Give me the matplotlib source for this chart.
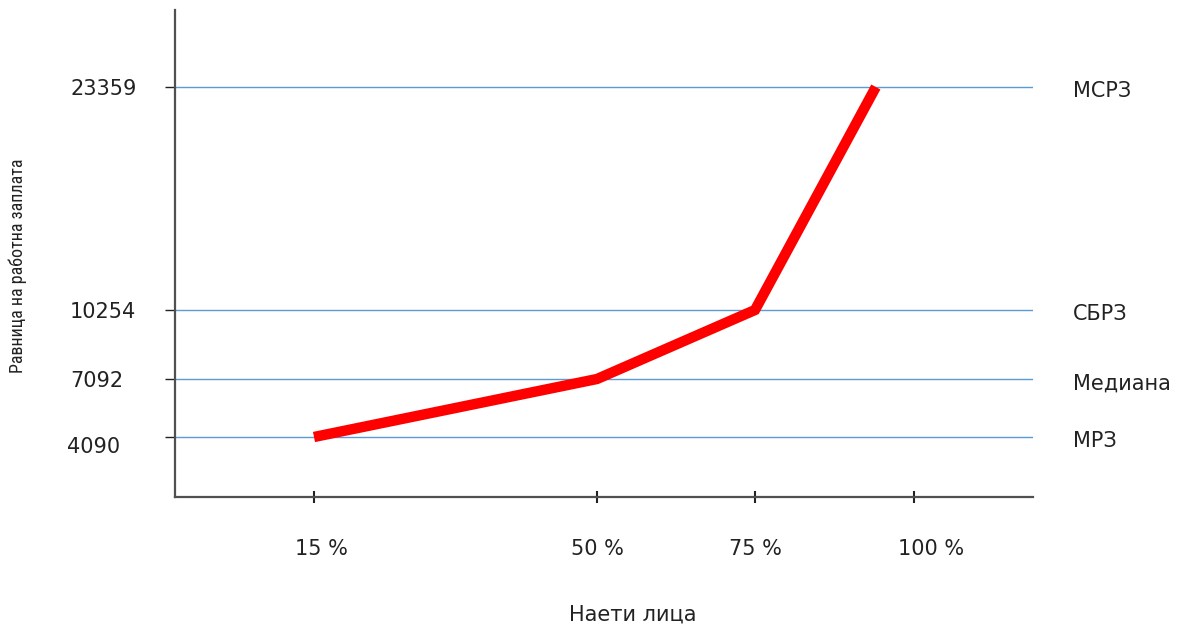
import numpy as np
import matplotlib
matplotlib.use("Agg")
import matplotlib.pyplot as plt
from matplotlib.transforms import ScaledTranslation

# Wage distribution: share of employees vs. wage level
share_pct = [15, 50, 75, 94]
wage = [4090, 7092, 10254, 23359]

level_values = [4090, 7092, 10254, 23359]
level_labels = ["4090", "7092", "10254", "23359"]
level_names = ["МРЗ", "Медиана", "СБРЗ", "МСРЗ"]

x_ticks = [15, 50, 75, 100]
x_tick_labels = ["15 %", "50 %", "75 %", "100 %"]

x_title = "Наети лица"
y_title = "Равница на работна заплата"

plt.rcParams["font.family"] = ["DejaVu Sans"]
TEXT = "#222222"
FS = 15

# Piecewise-linear scales: each interval between reference levels
# gets its own share of the axis length (schematic axes).
x_knots_data = [-10, 15, 50, 75, 100, 130]
x_knots_span = [112, 314, 597, 755, 914, 1105]
y_knots_data = [0, 4090, 7092, 10254, 23359, 30000]
y_knots_span = [-19, 60, 118, 187, 410, 523]


def fx(v):
    return np.interp(v, x_knots_data, x_knots_span)


def fx_inv(v):
    return np.interp(v, x_knots_span, x_knots_data)


def fy(v):
    return np.interp(v, y_knots_data, y_knots_span)


def fy_inv(v):
    return np.interp(v, y_knots_span, y_knots_data)


fig = plt.figure(figsize=(11.83, 6.24), dpi=100)
ax = fig.add_axes([175 / 1183, 1 - 497 / 624, 858 / 1183, 487 / 624])

ax.set_xscale("function", functions=(fx, fx_inv))
ax.set_yscale("function", functions=(fy, fy_inv))
ax.set_xlim(fx_inv(175), fx_inv(1033))
ax.set_ylim(fy_inv(0), fy_inv(487))

ax.plot(share_pct, wage, color="#ff0000", lw=7.5, solid_capstyle="butt",
        solid_joinstyle="miter", zorder=3)

# Reference levels
ax.set_yticks(level_values)
ax.set_yticklabels(level_labels)
ax.yaxis.grid(True, color="#5b9bd5", lw=1.0)
ax.xaxis.grid(False)
ax.set_axisbelow(True)

down = ScaledTranslation(0, -3 / 72, fig.dpi_scale_trans)
for v, name in zip(level_values, level_names):
    ax.text(1.047, v, name, transform=ax.get_yaxis_transform() + down,
            ha="left", va="center", fontsize=FS, color=TEXT)

ax.set_xticks(x_ticks)
ax.set_xticklabels(x_tick_labels)
ax.minorticks_off()

for side in ("top", "right"):
    ax.spines[side].set_visible(False)
for side in ("left", "bottom"):
    ax.spines[side].set_color("#505050")
    ax.spines[side].set_linewidth(1.6)

ax.tick_params(axis="y", direction="out", length=7.5, width=1.0,
               color=TEXT, pad=68, labelsize=FS, labelcolor=TEXT)
for lbl in ax.get_yticklabels():
    lbl.set_horizontalalignment("left")
# the lowest level label sits a little under its line
low = ax.get_yticklabels()[0]
low.set_transform(low.get_transform() + ScaledTranslation(-2 / 72, -6 / 72, fig.dpi_scale_trans))

ax.tick_params(axis="x", direction="inout", length=8, width=1.5,
               color=TEXT, pad=26, labelsize=FS, labelcolor=TEXT)
# small horizontal nudges of the percentage labels
for lbl, dx in zip(ax.get_xticklabels(), [5, 0, 0, 12]):
    lbl.set_transform(lbl.get_transform() + ScaledTranslation(dx / 72, 0, fig.dpi_scale_trans))

ax.set_xlabel(x_title, fontsize=FS, color=TEXT)
ax.xaxis.set_label_coords((633 - 175) / 858, (497 - 615) / 487)
ax.xaxis.label.set_verticalalignment("center")

ax.set_ylabel(y_title, fontsize=13, color=TEXT,
              family=["Liberation Sans Narrow", "Roboto Condensed", "Roboto"])
ax.yaxis.set_label_coords((18 - 175) / 858, (497 - 266) / 487)
ax.yaxis.label.set_verticalalignment("center")

fig.savefig("out.png", dpi=100)
